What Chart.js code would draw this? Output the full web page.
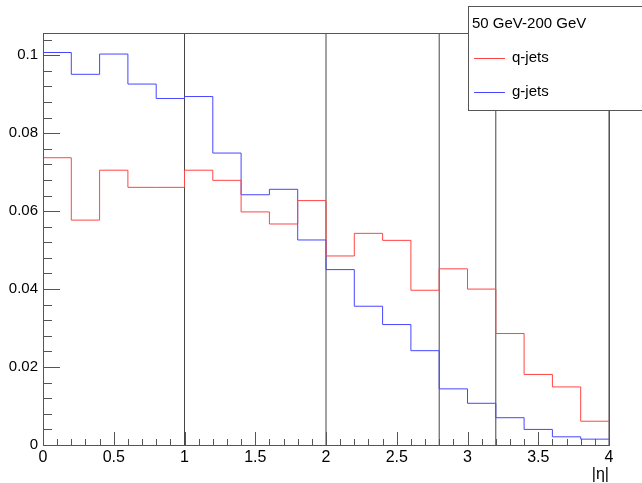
<!DOCTYPE html>
<html lang="en">
<head>
<meta charset="UTF-8">
<title>q-jets / g-jets |eta|</title>
<style>
    body {
        margin: 0;
        padding: 0;
        background-color: #fff;
    }
</style>
</head>
<body>
<canvas id="chart" width="642" height="483"></canvas>

<script src="https://cdn.jsdelivr.net/npm/chart.js"></script>
<script>
    // bin edges in |eta|, 20 bins of 0.2
    const binEdges = [0, 0.2, 0.4, 0.6, 0.8, 1.0, 1.2, 1.4, 1.6, 1.8, 2.0,
                      2.2, 2.4, 2.6, 2.8, 3.0, 3.2, 3.4, 3.6, 3.8, 4.0];
    const qJets = [0.0737, 0.0577, 0.0705, 0.0661, 0.0661, 0.0705, 0.0679, 0.0598, 0.0567, 0.0627,
                   0.0485, 0.0543, 0.0525, 0.0397, 0.0452, 0.0400, 0.0286, 0.0181, 0.0149, 0.0061];
    const gJets = [0.1007, 0.0951, 0.1003, 0.0926, 0.0889, 0.0894, 0.0749, 0.0642, 0.0656, 0.0526,
                   0.0450, 0.0356, 0.0309, 0.0242, 0.0144, 0.0107, 0.0070, 0.0040, 0.0021, 0.0015];
    const etaCuts = [1, 2, 2.8, 3.2, 4];
    const xTicks = [0, 0.5, 1, 1.5, 2, 2.5, 3, 3.5, 4];
    const yTicks = [0, 0.02, 0.04, 0.06, 0.08, 0.1];
    const yMax = 0.1057;
    const legendTitle = '50 GeV-200 GeV';

    const FONT = "'Liberation Sans', Arial, sans-serif";

    function histPoints(values) {
        // one point per left edge, plus the last right edge
        return binEdges.map((x, i) => ({ x: x, y: values[Math.min(i, values.length - 1)] }));
    }

    function cutPoints() {
        const pts = [];
        etaCuts.forEach(c => {
            pts.push({ x: c, y: 0 }, { x: c, y: yMax }, { x: c, y: null });
        });
        return pts;
    }

    // frame + inward ticks like ROOT
    const framePlugin = {
        id: 'frame',
        afterDatasetsDraw(chart) {
            const ctx = chart.ctx;
            const a = chart.chartArea;
            const xs = chart.scales.x;
            const ys = chart.scales.y;
            ctx.save();
            ctx.strokeStyle = '#555';
            ctx.lineWidth = 1;
            ctx.strokeRect(Math.round(a.left) + 0.5, Math.round(a.top) + 0.5,
                Math.round(a.right - a.left), Math.round(a.bottom - a.top));

            ctx.beginPath();
            for (let k = 0; k * 0.004 <= yMax + 1e-9; k++) {
                const py = Math.round(ys.getPixelForValue(k * 0.004)) + 0.5;
                const len = (k % 5 === 0) ? 17 : 9;
                ctx.moveTo(a.left, py);
                ctx.lineTo(a.left + len, py);
            }
            for (let k = 0; k <= 40; k++) {
                const px = Math.round(xs.getPixelForValue(k * 0.1)) + 0.5;
                const len = (k % 5 === 0) ? 13 : 6;
                ctx.moveTo(px, a.bottom);
                ctx.lineTo(px, a.bottom - len);
            }
            ctx.stroke();
            ctx.restore();
        }
    };

    const legendPlugin = {
        id: 'rootLegend',
        afterDraw(chart) {
            const ctx = chart.ctx;
            const bx = 468.5, by = 6.5, bw = 200, bh = 104;
            ctx.save();
            ctx.fillStyle = '#fff';
            ctx.fillRect(bx, by, bw, bh);
            ctx.strokeStyle = '#555';
            ctx.lineWidth = 1;
            ctx.strokeRect(bx, by, bw, bh);

            ctx.font = '15px ' + FONT;
            ctx.fillStyle = '#000';
            ctx.textBaseline = 'middle';
            ctx.fillText(legendTitle, 472, 24);

            const rows = [58, 92];
            chart.data.datasets.slice(0, 2).forEach((ds, i) => {
                const y = rows[i] + 0.5;
                ctx.strokeStyle = ds.borderColor;
                ctx.beginPath();
                ctx.moveTo(474, y);
                ctx.lineTo(505, y);
                ctx.stroke();
                ctx.fillStyle = '#000';
                ctx.fillText(ds.label, 512, rows[i]);
            });
            ctx.restore();
        }
    };

    new Chart(document.getElementById('chart').getContext('2d'), {
        type: 'line',
        data: {
            datasets: [{
                label: 'q-jets',
                data: histPoints(qJets),
                borderColor: 'rgb(255, 70, 70)',
                borderWidth: 1,
                stepped: 'before',
                pointRadius: 0,
                fill: false
            }, {
                label: 'g-jets',
                data: histPoints(gJets),
                borderColor: 'rgb(70, 70, 255)',
                borderWidth: 1,
                stepped: 'before',
                pointRadius: 0,
                fill: false
            }, {
                label: 'cuts',
                data: cutPoints(),
                borderColor: '#444',
                borderWidth: 1,
                pointRadius: 0,
                spanGaps: false,
                fill: false
            }]
        },
        options: {
            responsive: false,
            animation: false,
            layout: {
                padding: { top: 33, right: 33, left: 0, bottom: 0 }
            },
            plugins: {
                legend: { display: false },
                tooltip: { enabled: false }
            },
            scales: {
                x: {
                    type: 'linear',
                    min: 0,
                    max: 4,
                    afterBuildTicks: s => { s.ticks = xTicks.map(v => ({ value: v })); },
                    afterFit: s => { s.height = 38; },
                    grid: { display: false, drawTicks: false },
                    border: { display: false },
                    ticks: {
                        color: '#000',
                        padding: 3,
                        maxRotation: 0,
                        font: { family: FONT, size: 16 },
                        callback: v => String(parseFloat(v.toFixed(2)))
                    },
                    title: {
                        display: true,
                        text: '|η|',
                        align: 'end',
                        color: '#000',
                        padding: { top: 0, bottom: -1 },
                        font: { family: FONT, size: 16 }
                    }
                },
                y: {
                    min: 0,
                    max: yMax,
                    afterBuildTicks: s => { s.ticks = yTicks.map(v => ({ value: v })); },
                    afterFit: s => { s.width = 43; },
                    grid: { display: false, drawTicks: false },
                    border: { display: false },
                    ticks: {
                        color: '#000',
                        padding: 5,
                        font: { family: FONT, size: 15 },
                        callback: v => String(parseFloat(v.toFixed(3)))
                    }
                }
            }
        },
        plugins: [framePlugin, legendPlugin]
    });
</script>
</body>
</html>
